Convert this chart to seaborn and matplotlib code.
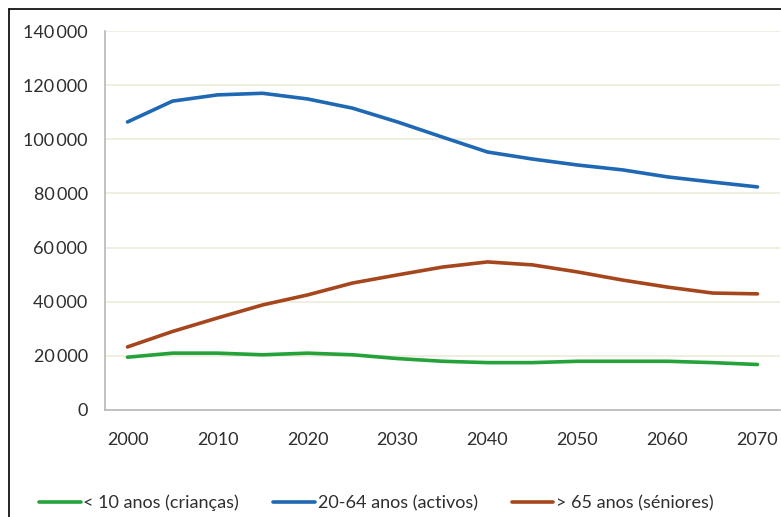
import seaborn as sns
import matplotlib.pyplot as plt
import matplotlib.lines as mlines
import matplotlib.ticker as mticker
import pandas as pd

sns.set_style('white')
plt.rcParams['font.family'] = ['Lato', 'DejaVu Sans']

years = list(range(2000, 2075, 5))
criancas = [19500, 21000, 21000, 20400, 21000, 20400, 19000, 18000,
            17500, 17500, 18000, 18000, 18000, 17500, 16800]
activos = [106400, 114100, 116400, 117000, 114900, 111500, 106400, 100800,
           95300, 92700, 90500, 88700, 86100, 84200, 82400]
seniores = [23300, 29000, 34000, 38800, 42500, 46900, 49900, 52800,
            54700, 53600, 51000, 48000, 45400, 43200, 42900]

labels = ['< 10 anos (crianças)', '20-64 anos (activos)', '> 65 anos (séniores)']
colors = ['#25A23A', '#1F68B4', '#A5461D']

df = pd.DataFrame({'Ano': years * 3,
                   'Pop': criancas + activos + seniores,
                   'Grupo': [labels[0]] * 15 + [labels[1]] * 15 + [labels[2]] * 15})

fig = plt.figure(figsize=(7.81, 5.17), dpi=100)
ax = fig.add_axes([105 / 781, 1 - 410 / 517, 675 / 781, 379 / 517])

sns.lineplot(data=df, x='Ano', y='Pop', hue='Grupo', palette=colors,
             linewidth=2.6, ax=ax)

ax.set_xlim(1997.5, 2072.5)
ax.set_ylim(0, 140000)
ax.set_xticks(range(2000, 2071, 10))
ax.xaxis.set_minor_locator(mticker.FixedLocator([1997.5 + 5 * k for k in range(16)]))
ax.set_yticks(range(0, 140001, 20000))
ax.yaxis.set_major_formatter(mticker.FuncFormatter(
    lambda v, p: '{:,}'.format(int(v)).replace(',', '\u2009')))

txt = '#2e2e2e'
ax.tick_params(axis='x', which='major', length=0, pad=16, labelsize=13, labelcolor=txt)
ax.tick_params(axis='x', which='minor', length=5, width=1, color='#b8b8b8', direction='out')
ax.tick_params(axis='y', length=6, width=1, color='#b8b8b8', pad=6.5, labelsize=13,
               labelcolor=txt, direction='out')

ax.grid(axis='y', color='#ecebdc', linewidth=1.2)
for s in ['top', 'right']:
    ax.spines[s].set_visible(False)
for s in ['left', 'bottom']:
    ax.spines[s].set_color('#b8b8b8')
    ax.spines[s].set_linewidth(1.2)

ax.set_xlabel('')
ax.set_ylabel('')
ax.legend_.remove()

handles = [mlines.Line2D([], [], color=c, linewidth=2.6) for c in colors]
fig.legend(handles, labels, loc='center', bbox_to_anchor=(0.482, 1 - 503 / 517),
           ncol=3, frameon=False, fontsize=13, handlelength=2.3, handletextpad=0.15,
           columnspacing=1.9, labelcolor=txt)

# outer frame (left and top edges visible)
fig.add_artist(mlines.Line2D([9 / 781, 9 / 781], [0, 1 - 9 / 517], color='black', linewidth=1.2))
fig.add_artist(mlines.Line2D([9 / 781, 1], [1 - 9 / 517, 1 - 9 / 517], color='black', linewidth=1.2))

fig.savefig('out.png', dpi=100)
